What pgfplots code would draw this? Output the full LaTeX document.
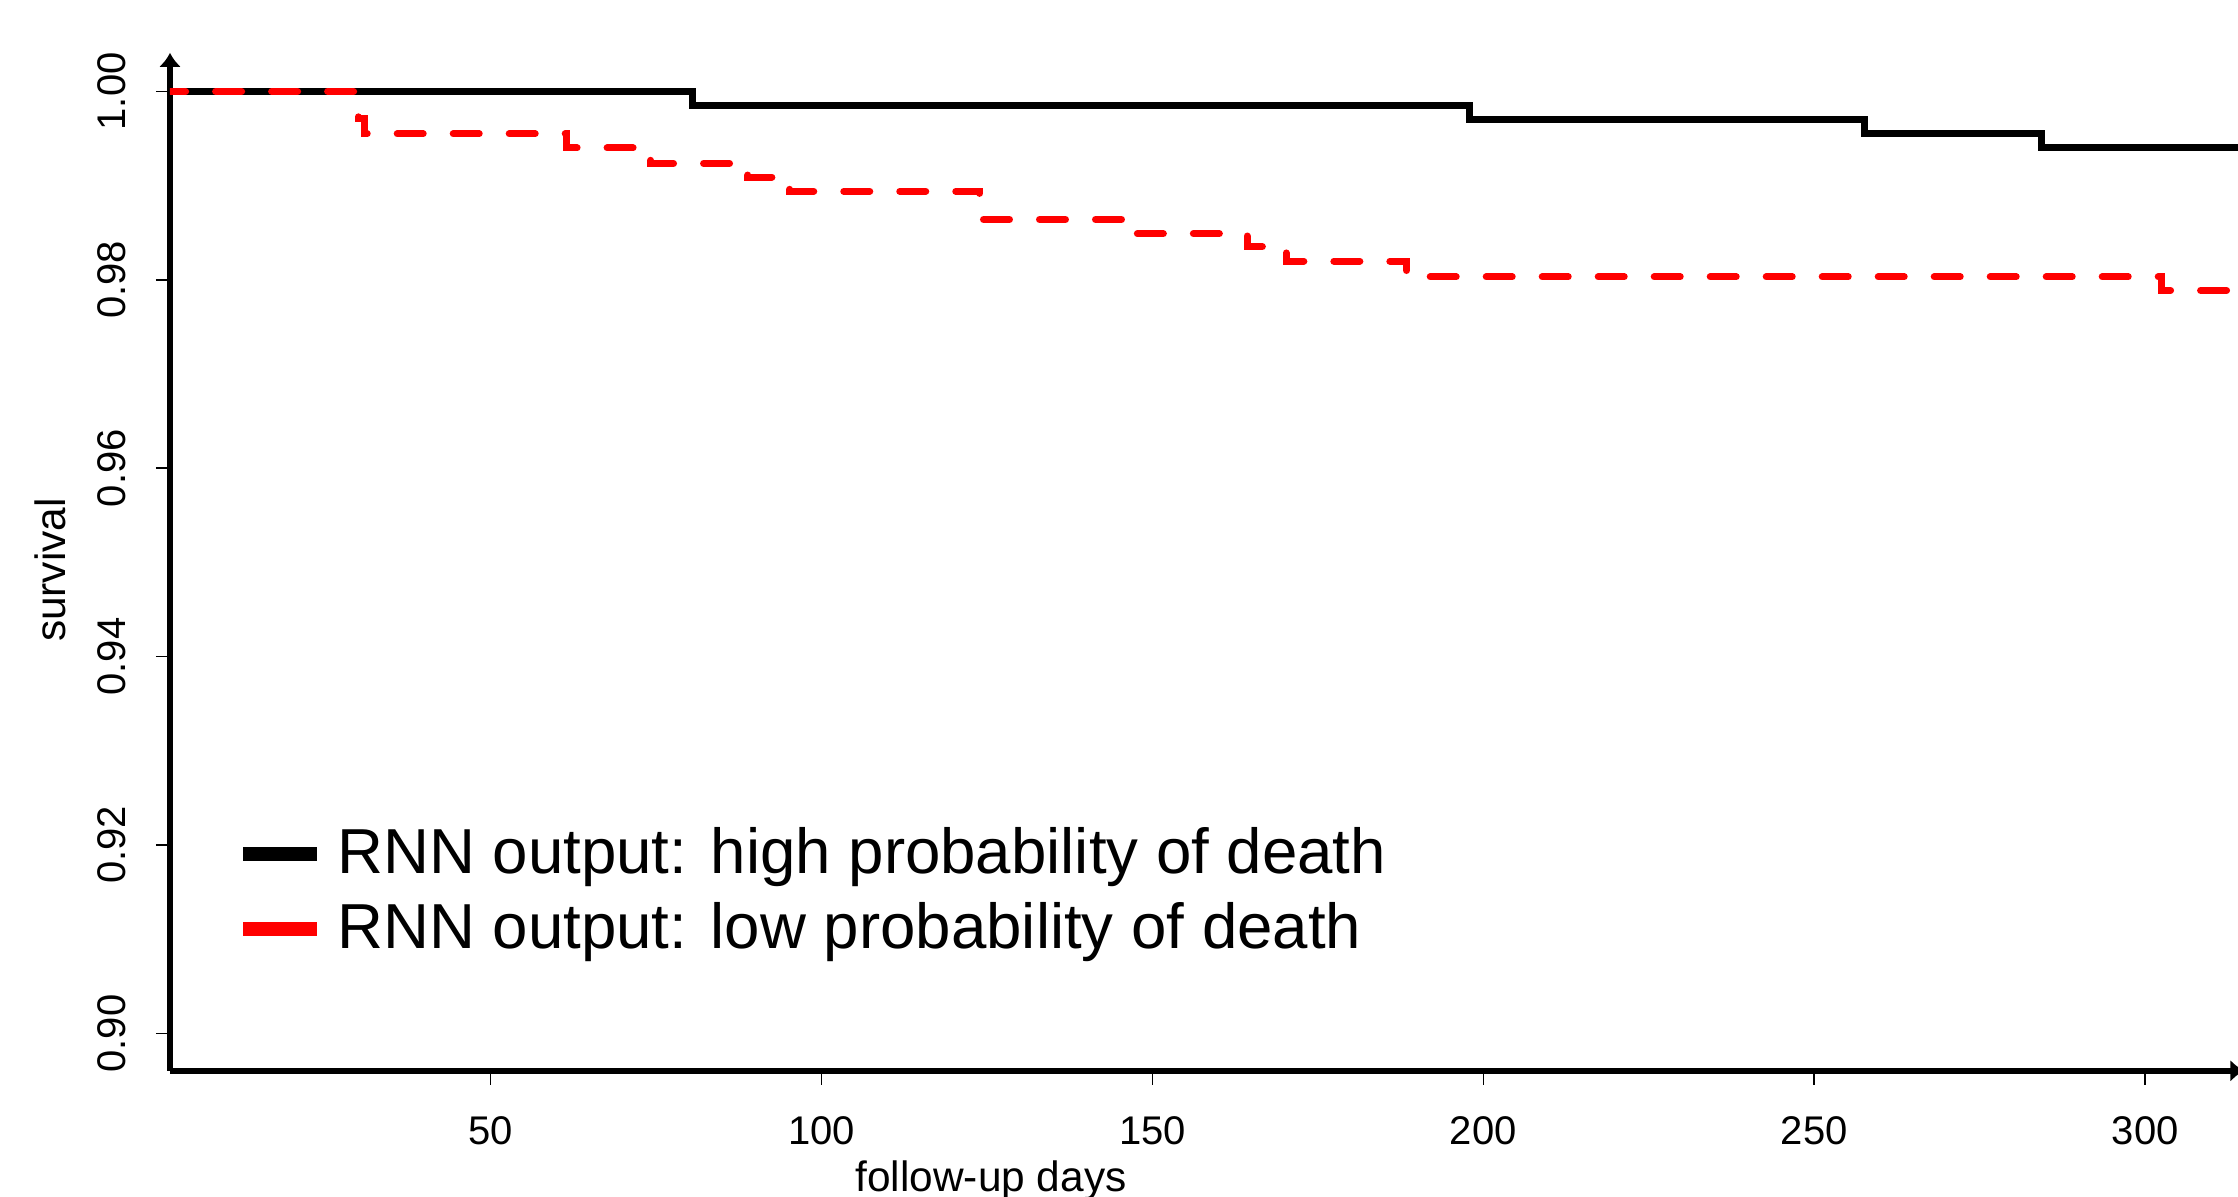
\documentclass[border=0pt]{standalone}
\usepackage{fontspec}
\setmainfont{Liberation Sans}
\usepackage{pgfplots}
\pgfplotsset{compat=1.18}
\usetikzlibrary{arrows.meta}

\begin{document}
\begin{tikzpicture}
% the reference is a crop: fix the page to it
\useasboundingbox (-42.5pt,-31.55pt) rectangle (517pt,267.7pt);
\clip (-42.5pt,-31.55pt) rectangle (517pt,267.7pt);
\begin{axis}[
  at={(0,0)}, anchor=south west,
  scale only axis,
  width=518.6pt, height=254.5pt,
  xmin=1.57, xmax=315,
  ymin=0.89604, ymax=1.0041,
  axis lines=left,
  axis line style={line width=1.4pt, -{Latex[length=3.5pt,width=5.5pt]}},
  tick align=outside,
  major tick length=3.5pt,
  tick style={black, line width=0.4pt},
  xtick={50,100,150,200,250,300},
  ytick={0.90,0.92,0.94,0.96,0.98,1.00},
  font=\fontsize{10}{12}\selectfont,
  /pgf/number format/assume math mode=true,
  xticklabel style={anchor=base, yshift=-15.05pt},
  yticklabel style={xshift=-7.6pt, rotate=90, anchor=base,
    /pgf/number format/fixed, /pgf/number format/fixed zerofill,
    /pgf/number format/precision=2},
  xlabel={follow-up days},
  ylabel={survival},
  xlabel style={at={(rel axis cs:0.3958,0)}, anchor=base, yshift=-30.3pt,
    font=\fontsize{10.6}{12}\selectfont},
  ylabel style={at={(rel axis cs:-0.05014,0.4919)}, anchor=base,
    font=\fontsize{10.6}{12}\selectfont},
  legend style={at={(rel axis cs:0.0320,0.2444)}, anchor=north west,
    draw=none, fill=none, inner sep=0pt, outer sep=0pt,
    row sep=0pt, column sep=0pt,
    font=\fontsize{15.9}{19}\selectfont,
    cells={anchor=base west},
    nodes={inner sep=0pt, outer sep=0pt, text height=13pt, text depth=5.75pt, anchor=base west}},
  legend image code/.code={
    \draw[#1, solid, line cap=butt, line width=3.5pt] (0pt,5pt) -- (18.5pt,5pt);
    \path[draw=none] (0pt,5pt) -- (23.5pt,5pt);
  },
]
% RNN output: high probability of death
\addplot[black, line width=1.75pt, const plot] coordinates {
  (0,1.0) (80.5,0.9985) (197.9,0.9970) (257.6,0.9955) (284.3,0.9940) (316,0.9940)
};
\addlegendentry{RNN output: high probability of death}

% RNN output: low probability of death
\addplot[red, line width=1.75pt, const plot, line cap=round,
  dash pattern=on 6.5pt off 7.5pt] coordinates {
  (0,1.0) (29.6,0.9985) (30.0,0.9971) (31.0,0.9955) (61.5,0.9940)
  (74.2,0.99235) (88.9,0.9909) (95.2,0.9894) (123.9,0.9864) (146.3,0.9849)
  (164.3,0.98352) (170.2,0.98198) (188.4,0.98032) (302.5,0.97887) (316,0.97887)
};
\addlegendentry{RNN output: low probability of death}
\end{axis}
\end{tikzpicture}
\end{document}
